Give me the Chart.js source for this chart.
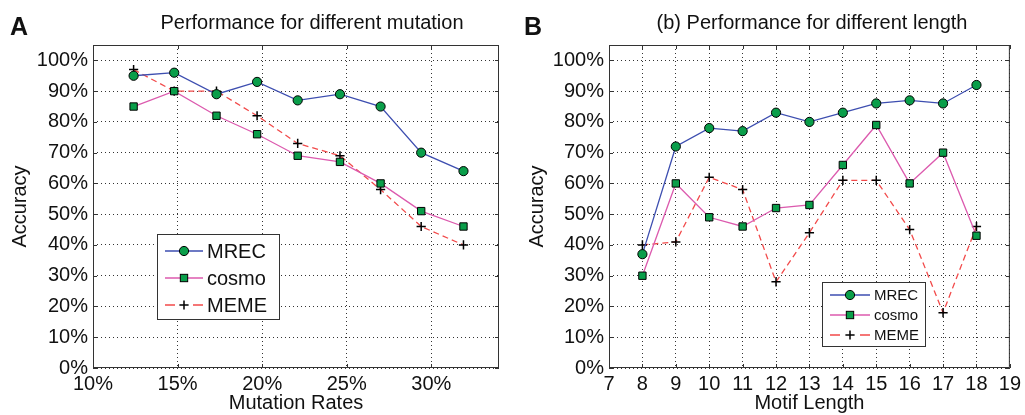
<!DOCTYPE html>
<html lang="en">
<head>
<meta charset="UTF-8">
<title>Performance for different mutation / length</title>
<script src="https://cdn.jsdelivr.net/npm/chart.js@4"></script>
<style>
  body { margin: 0; background: #fff; width: 1025px; height: 415px; overflow: hidden; position: relative; }
  canvas { position: absolute; top: 0; }
  #chartA { left: 0; }
  #chartB { left: 512px; }
</style>
</head>
<body>
<canvas id="chartA" width="512" height="415"></canvas>
<canvas id="chartB" width="513" height="415"></canvas>
<script>
  // panel A: accuracy vs mutation rate (%)
  const mutationRates = [12.4, 14.8, 17.3, 19.7, 22.1, 24.6, 27.0, 29.4, 31.9];
  const mutationMrec  = [95, 96, 89, 93, 87, 89, 85, 70, 64];
  const mutationCosmo = [85, 90, 82, 76, 69, 67, 60, 51, 46];
  const mutationMeme  = [97, 90, 90, 82, 73, 69, 58, 46, 40];
  const mutationTicks = [10, 15, 20, 25, 30];

  // panel B: accuracy vs motif length
  const motifLengths = [8, 9, 10, 11, 12, 13, 14, 15, 16, 17, 18];
  const lengthMrec   = [37, 72, 78, 77, 83, 80, 83, 86, 87, 86, 92];
  const lengthCosmo  = [30, 60, 49, 46, 52, 53, 66, 79, 60, 70, 43];
  const lengthMeme   = [40, 41, 62, 58, 28, 44, 61, 61, 45, 18, 46];
  const lengthTicks  = [7, 8, 9, 10, 11, 12, 13, 14, 15, 16, 17, 18, 19];

  const accuracyTicks = [0, 10, 20, 30, 40, 50, 60, 70, 80, 90, 100];
  const seriesNames = ['MREC', 'cosmo', 'MEME'];

  const FONT = '"Liberation Sans", Arial, Helvetica, sans-serif';
  Chart.defaults.font.family = FONT;
  Chart.defaults.color = '#111';

  const markerGreen = '#0a9e4a';
  const styles = [
    { borderColor: '#3d4eb0', pointStyle: 'circle', pointRadius: 4.6, pointBackgroundColor: markerGreen, pointBorderColor: '#000', pointBorderWidth: 1 },
    { borderColor: '#dc5aae', pointStyle: 'rect', pointRadius: 5.2, pointBackgroundColor: markerGreen, pointBorderColor: '#000', pointBorderWidth: 1 },
    { borderColor: '#f24a4a', borderDash: [6, 4], pointStyle: 'cross', pointRadius: 4.6, pointBorderColor: '#000', pointBorderWidth: 1.5 }
  ];

  function makeDatasets(xs, seriesList) {
    return seriesList.map((ys, i) => Object.assign({
      label: seriesNames[i],
      data: xs.map((x, j) => ({ x: x, y: ys[j] })),
      borderWidth: 1.3,
      fill: false,
      tension: 0
    }, styles[i]));
  }

  function drawMarker(ctx, st, x, y) {
    ctx.save();
    ctx.setLineDash([]);
    ctx.strokeStyle = st.pointBorderColor;
    ctx.lineWidth = st.pointBorderWidth;
    const r = st.pointRadius;
    if (st.pointStyle === 'circle') {
      ctx.fillStyle = st.pointBackgroundColor;
      ctx.beginPath(); ctx.arc(x, y, r, 0, Math.PI * 2); ctx.fill(); ctx.stroke();
    } else if (st.pointStyle === 'rect') {
      const s = r * Math.SQRT1_2;
      ctx.fillStyle = st.pointBackgroundColor;
      ctx.fillRect(x - s, y - s, 2 * s, 2 * s);
      ctx.strokeRect(x - s, y - s, 2 * s, 2 * s);
    } else {
      ctx.beginPath();
      ctx.moveTo(x - r, y); ctx.lineTo(x + r, y);
      ctx.moveTo(x, y - r); ctx.lineTo(x, y + r);
      ctx.stroke();
    }
    ctx.restore();
  }

  // matlab style frame, title, panel letter and legend
  const panelDecor = {
    id: 'panelDecor',
    afterDraw(chart, args, o) {
      const ctx = chart.ctx, a = chart.chartArea;
      const xs = chart.scales.x, ys = chart.scales.y;
      ctx.save();
      ctx.strokeStyle = '#333';
      ctx.lineWidth = 1;
      ctx.setLineDash([]);
      ctx.strokeRect(a.left + 0.5, a.top + 0.5, a.right - a.left - 1, a.bottom - a.top - 1);
      ctx.beginPath();
      xs.ticks.forEach(t => {
        const px = Math.round(xs.getPixelForValue(t.value)) + 0.5;
        ctx.moveTo(px, a.bottom); ctx.lineTo(px, a.bottom - 4);
        ctx.moveTo(px, a.top); ctx.lineTo(px, a.top + 4);
      });
      ys.ticks.forEach(t => {
        const py = Math.round(ys.getPixelForValue(t.value)) + 0.5;
        ctx.moveTo(a.left, py); ctx.lineTo(a.left + 4, py);
        ctx.moveTo(a.right, py); ctx.lineTo(a.right - 4, py);
      });
      ctx.stroke();

      ctx.fillStyle = '#111';
      ctx.textBaseline = 'alphabetic';
      ctx.textAlign = 'center';
      ctx.font = '20px ' + FONT;
      ctx.fillText(o.title, o.titleX, 29);
      ctx.textAlign = 'left';
      ctx.font = 'bold 25px ' + FONT;
      ctx.fillText(o.letter, o.letterX, 35);

      // legend
      const L = o.legend;
      ctx.fillStyle = '#fff';
      ctx.fillRect(L.x, L.y, L.w, L.h);
      ctx.strokeStyle = '#333';
      ctx.strokeRect(L.x + 0.5, L.y + 0.5, L.w, L.h);
      ctx.font = L.fontSize + 'px ' + FONT;
      ctx.textBaseline = 'middle';
      chart.data.datasets.forEach((ds, i) => {
        const rowY = L.y + L.firstRow + i * L.rowGap;
        const x1 = L.x + L.lineStart, x2 = x1 + L.lineLen;
        ctx.strokeStyle = ds.borderColor;
        ctx.lineWidth = 1.5;
        ctx.setLineDash(ds.borderDash ? [10, L.lineLen - 20] : []);
        ctx.beginPath(); ctx.moveTo(x1, rowY); ctx.lineTo(x2, rowY); ctx.stroke();
        drawMarker(ctx, ds, (x1 + x2) / 2, rowY);
        ctx.fillStyle = '#111';
        ctx.fillText(ds.label, x2 + 4, rowY + 1);
      });
      ctx.restore();
    }
  };

  function makeOptions(cfg) {
    const gridOpts = { color: '#333', lineWidth: 1, drawTicks: false };
    const borderOpts = { display: false, dash: [1, 3] };
    return {
      responsive: false,
      animation: false,
      events: [],
      layout: { padding: { top: 45, right: cfg.padRight, left: 0, bottom: 0 } },
      plugins: {
        legend: { display: false },
        tooltip: { enabled: false },
        panelDecor: cfg.decor
      },
      scales: {
        x: {
          type: 'linear',
          min: cfg.xMin,
          max: cfg.xMax,
          afterBuildTicks: s => { s.ticks = cfg.xTicks.map(v => ({ value: v })); },
          afterFit: s => { s.height = 47; },
          ticks: { autoSkip: false, maxRotation: 0, padding: 4, font: { size: 20 }, callback: cfg.xLabel },
          grid: gridOpts,
          border: borderOpts,
          title: { display: true, text: cfg.xTitle, font: { size: 20 }, padding: 0 }
        },
        y: {
          min: 0,
          max: 105,
          afterBuildTicks: s => { s.ticks = accuracyTicks.map(v => ({ value: v })); },
          afterFit: s => { s.width = cfg.yWidth; },
          ticks: { padding: 5, font: { size: 20 }, callback: v => v + '%' },
          grid: gridOpts,
          border: borderOpts,
          title: { display: true, text: 'Accuracy', font: { size: 20 }, padding: { top: cfg.yTitlePad, bottom: 0 } }
        }
      }
    };
  }

  new Chart(document.getElementById('chartA'), {
    type: 'line',
    data: { datasets: makeDatasets(mutationRates, [mutationMrec, mutationCosmo, mutationMeme]) },
    options: makeOptions({
      xMin: 10, xMax: 34, xTicks: mutationTicks, xLabel: v => v + '%',
      xTitle: 'Mutation Rates', yWidth: 93, yTitlePad: 8, padRight: 13,
      decor: {
        title: 'Performance for different mutation', titleX: 312, letter: 'A', letterX: 10,
        legend: { x: 157, y: 234, w: 122, h: 85, firstRow: 17, rowGap: 27, lineStart: 8, lineLen: 38, fontSize: 20 }
      }
    }),
    plugins: [panelDecor]
  });

  new Chart(document.getElementById('chartB'), {
    type: 'line',
    data: { datasets: makeDatasets(motifLengths, [lengthMrec, lengthCosmo, lengthMeme]) },
    options: makeOptions({
      xMin: 7, xMax: 19, xTicks: lengthTicks, xLabel: v => String(v),
      xTitle: 'Motif Length', yWidth: 97, yTitlePad: 13, padRight: 11,
      decor: {
        title: '(b) Performance for different length', titleX: 300, letter: 'B', letterX: 12,
        legend: { x: 310, y: 282, w: 103, h: 64, firstRow: 13, rowGap: 20, lineStart: 8, lineLen: 40, fontSize: 15 }
      }
    }),
    plugins: [panelDecor]
  });
</script>
</body>
</html>
